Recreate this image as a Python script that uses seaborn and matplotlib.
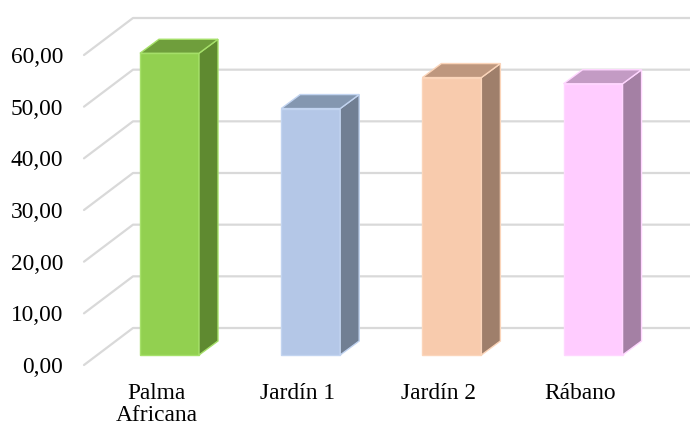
import matplotlib as mpl; mpl.use("Agg")
import matplotlib.pyplot as plt
import seaborn as sns
import pandas as pd
from matplotlib.patches import Polygon

# datos del grafico
categorias = ["Palma\nAfricana", "Jardín 1", "Jardín 2", "Rábano"]
valores = [58.4, 47.7, 53.7, 52.5]
ticks = [0, 10, 20, 30, 40, 50, 60]
etiquetas_y = ["0,00", "10,00", "20,00", "30,00", "40,00", "50,00", "60,00"]
col_frente = ["#92D050", "#B4C7E7", "#F8CBAD", "#FFCCFF"]
col_arriba = ["#6F9E3C", "#8497B0", "#BE977E", "#C39BC4"]
col_lado = ["#5F8A30", "#717F93", "#9F7F6B", "#A480A4"]
col_borde = ["#A6E06A", "#C2D4F0", "#FBD5BA", "#FFD6FF"]

df = pd.DataFrame({"cat": categorias, "val": valores})

sns.set_style("white")
plt.rcParams["font.family"] = ["Liberation Serif", "DejaVu Serif"]

W, H = 690, 428
fig = plt.figure(figsize=(W / 100, H / 100), dpi=100)
# eje en el plano frontal (pixeles: x 84-641, y 55-365)
ax = fig.add_axes([84 / W, (H - 365) / H, 557 / W, 310 / H])

sns.barplot(data=df, x="cat", y="val", hue="cat", palette=col_frente,
            width=0.418, legend=False, ax=ax, zorder=3, saturation=1)

x0, x1 = -0.512, 3.433
ax.set_xlim(x0, x1)
ax.set_ylim(0, 60)
sx = 557 / (x1 - x0)   # px por unidad x
sy = 310 / 60          # px por unidad y

def off(px, py):
    return px / sx, py / sy

# pared del fondo y lineas de la rejilla
bdx, bdy = off(49, 37)
for t in ticks:
    ax.plot([x0, x0 + bdx, x1 + bdx], [t, t + bdy, t + bdy], color="#D9D9D9",
            lw=1.6, clip_on=False, zorder=1)

# caras 3D de las barras
fdx, fdy = off(13.2, 10)
ddx, ddy = off(19, 14)
for i, p in enumerate(ax.patches):
    xa = p.get_x() + fdx
    xb = xa + p.get_width()
    h = p.get_height()
    p.set_x(xa)
    p.set_y(fdy)
    p.set_edgecolor(col_borde[i])
    p.set_linewidth(1)
    top = h + fdy
    lado = Polygon([(xb, fdy), (xb, top), (xb + ddx, top + ddy), (xb + ddx, fdy + ddy)],
                   closed=True, facecolor=col_lado[i], edgecolor=col_borde[i], lw=1,
                   zorder=3, clip_on=False)
    arriba = Polygon([(xa, top), (xb, top), (xb + ddx, top + ddy), (xa + ddx, top + ddy)],
                     closed=True, facecolor=col_arriba[i], edgecolor=col_borde[i], lw=1,
                     zorder=3, clip_on=False)
    ax.add_patch(lado)
    ax.add_patch(arriba)
    p.set_clip_on(False)

ax.set_yticks(ticks)
ax.set_yticklabels(etiquetas_y, fontsize=16.8, color="black")
ax.tick_params(axis="y", length=0, pad=15)
ax.set_xticks(range(len(categorias)))
ax.set_xticklabels(categorias, fontsize=16.8, linespacing=1.05, color="black",
                   va="top")
ax.tick_params(axis="x", length=0, pad=13)
ax.set_xlabel("")
ax.set_ylabel("")
sns.despine(ax=ax, left=True, bottom=True)
ax.patch.set_alpha(0)

fig.savefig("out.png", dpi=100)
print("OK -> out.png")
